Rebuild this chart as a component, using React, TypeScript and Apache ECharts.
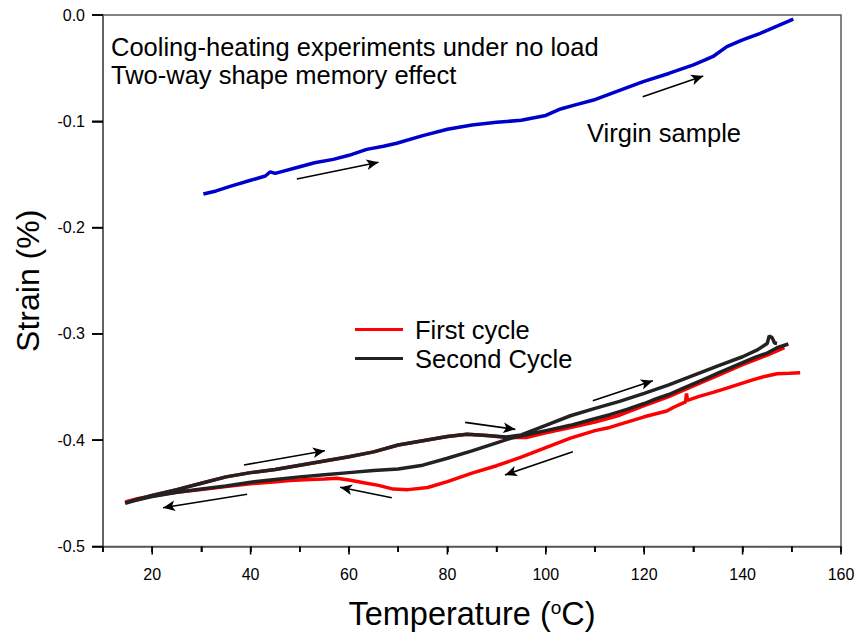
import React, { useEffect, useRef } from 'react';
import * as echarts from 'echarts';

// Temperature (°C), Strain (%)
const virginSample: [number, number][] = [
  [30.4, -0.1684], [33, -0.1655], [36, -0.161], [40, -0.1555], [43, -0.1515], [44, -0.1475],
  [45, -0.149], [50, -0.1427], [53, -0.139], [56.8, -0.1358], [60, -0.132], [63.6, -0.1264],
  [67, -0.1235], [69.7, -0.1207], [75, -0.1135], [80, -0.1075], [85, -0.1035], [90, -0.101],
  [95, -0.099], [100, -0.0945], [103, -0.0884], [106, -0.0845], [109.7, -0.08], [115, -0.071],
  [119.8, -0.0627], [125, -0.055], [130, -0.047], [132.4, -0.0423], [134, -0.039], [136.8, -0.0298],
  [140, -0.0235], [143.6, -0.0172], [147, -0.0105], [150.3, -0.0038],
];

const firstCycle: [number, number][] = [
  // cooling
  [151.7, -0.3365], [149.5, -0.337], [147, -0.3375], [144.5, -0.34], [142.2, -0.343], [139.5, -0.347],
  [136.8, -0.351], [134, -0.355], [131, -0.359], [128.8, -0.3625], [128.6, -0.356], [128.4, -0.364],
  [126, -0.369], [124.6, -0.3725], [120, -0.378], [116.5, -0.383], [113, -0.388], [110, -0.391],
  [105, -0.398], [100, -0.407], [95, -0.416], [90, -0.424], [85, -0.431], [80, -0.439], [76, -0.4445],
  [72, -0.4465], [69, -0.446], [66, -0.4425], [63, -0.44], [60, -0.4375], [57.5, -0.4358], [55, -0.4365],
  [52, -0.437], [48, -0.438], [44, -0.4395], [40, -0.441], [35, -0.4435], [30, -0.4465], [25, -0.449],
  [20, -0.4525], [17, -0.455], [14.5, -0.458],
  // heating
  [17, -0.456], [20, -0.452], [25, -0.4465], [30, -0.4405], [35, -0.4345], [40, -0.4305], [45, -0.4275],
  [50, -0.4235], [55, -0.4195], [60, -0.4155], [65, -0.411], [70, -0.4045], [75, -0.4005], [80, -0.3965],
  [84, -0.3945], [88, -0.3955], [92, -0.3975], [96, -0.3975], [100, -0.393], [105, -0.388], [110, -0.383],
  [115, -0.3765], [120, -0.3675], [125, -0.359], [130, -0.349], [135, -0.339], [140, -0.329],
  [145, -0.32], [148.5, -0.313],
];

const secondCycle: [number, number][] = [
  // cooling
  [149.3, -0.3095], [147, -0.313], [145, -0.318], [142.5, -0.322], [140, -0.327], [137.5, -0.332],
  [135, -0.337], [132.5, -0.342], [130, -0.347], [127.5, -0.352], [125, -0.357], [122.5, -0.361],
  [120, -0.3655], [116.5, -0.371], [113, -0.376], [109, -0.381], [105, -0.386], [100, -0.391],
  [96, -0.395], [93, -0.398], [90, -0.4025], [85, -0.41], [80, -0.417], [75, -0.4235], [70, -0.427],
  [65, -0.4285], [60, -0.4305], [55, -0.4325], [50, -0.4345], [45, -0.437], [40, -0.4395], [35, -0.443],
  [30, -0.446], [25, -0.449], [20, -0.453], [17, -0.456], [14.5, -0.4595],
  // heating
  [15, -0.4585], [17, -0.4555], [20, -0.452], [25, -0.4465], [30, -0.4405], [35, -0.4345], [40, -0.4305],
  [45, -0.4275], [50, -0.4235], [55, -0.4195], [60, -0.4155], [65, -0.411], [70, -0.4045], [75, -0.4005],
  [80, -0.3965], [84, -0.3945], [88, -0.3955], [92, -0.397], [95, -0.395], [100, -0.386], [105, -0.377],
  [110, -0.37], [115, -0.3635], [120, -0.356], [125, -0.348], [130, -0.339], [135, -0.33], [140, -0.3215],
  [143, -0.315], [145, -0.309], [145.4, -0.302], [146, -0.3035], [146.5, -0.3085], [147, -0.309],
];

// Arrows: [fromT, fromStrain, toT, toStrain]
const arrows: [number, number, number, number][] = [
  [49.4, -0.1543, 66.0, -0.1386],
  [119.7, -0.0769, 132.0, -0.0574],
  [38.65, -0.4233, 55.1, -0.4099],
  [39.3, -0.4509, 22.2, -0.4635],
  [68.7, -0.4541, 58.2, -0.4443],
  [83.6, -0.3832, 93.8, -0.3898],
  [109.55, -0.3628, 121.75, -0.344],
  [105.5, -0.4108, 91.7, -0.4327],
];

// Axis ticks
const xTickValues = [10, 20, 30, 40, 50, 60, 70, 80, 90, 100, 110, 120, 130, 140, 150, 160];
const yTickValues = [-0.5, -0.4, -0.3, -0.2, -0.1, 0];
const X_MIN = 10;
const X_MAX = 160;
const Y_MIN = -0.5;
const Y_MAX = 0;

const seriesNames = ['First cycle', 'Second Cycle'];
const annotationText = 'Cooling-heating experiments under no load\nTwo-way shape memory effect';
const virginLabel = 'Virgin sample';

const FONT = '"Liberation Sans", Arial, Helvetica, sans-serif';

export default function App() {
  const ref = useRef<HTMLDivElement>(null);
  useEffect(() => {
    if (!ref.current) return;
    const chart = echarts.init(ref.current, null, { renderer: 'svg' });
    const axisLineStyle = { color: '#5a5a5a', width: 1.5 };
    const textGraphics: any[] = [
      {
        type: 'text', left: 111, top: 32.6,
        style: { text: annotationText, fontSize: 25.5, lineHeight: 28, fill: '#000', fontFamily: FONT },
      },
      {
        type: 'text', left: 587, top: 119.5,
        style: { text: virginLabel, fontSize: 25.5, fill: '#000', fontFamily: FONT },
      },
    ];
    chart.setOption({
      animation: false,
      textStyle: { fontFamily: FONT },
      grid: {
        left: 103, right: 20, top: 15, bottom: 89.5,
        show: true, borderColor: '#5a5a5a', borderWidth: 1.5, backgroundColor: 'transparent',
      },
      legend: {
        data: seriesNames,
        orient: 'vertical',
        left: 355,
        top: 316.5,
        padding: 0,
        itemWidth: 48,
        itemHeight: 3,
        itemGap: 3,
        icon: 'rect',
        selectedMode: false,
        textStyle: { fontSize: 25.5, color: '#000', lineHeight: 25, fontFamily: FONT, padding: [0, 0, 0, 7] },
      },
      xAxis: {
        type: 'value',
        min: X_MIN,
        max: X_MAX,
        interval: 10,
        name: 'Temperature ({s|o}C)',
        nameLocation: 'middle',
        nameGap: 51,
        nameTextStyle: {
          fontSize: 32.5, color: '#000', fontFamily: FONT,
          rich: { s: { fontSize: 19, verticalAlign: 'top', color: '#000', fontFamily: FONT } },
        },
        axisLine: { show: true, onZero: false, lineStyle: axisLineStyle },
        axisTick: { show: true, length: 5.5, lineStyle: { color: '#000', width: 1.5 } },
        axisLabel: {
          margin: 20, fontSize: 16, color: '#000', fontFamily: FONT,
          formatter: (v: number) => (Math.round(v) % 20 === 0 ? String(Math.round(v)) : ''),
        },
        splitLine: { show: false },
      },
      yAxis: {
        type: 'value',
        min: Y_MIN,
        max: Y_MAX,
        interval: 0.1,
        name: 'Strain (%)',
        nameLocation: 'middle',
        nameGap: 59,
        nameTextStyle: { fontSize: 32, color: '#000', fontFamily: FONT },
        axisLine: { show: true, onZero: false, lineStyle: axisLineStyle },
        axisTick: { show: true, length: 11, lineStyle: { color: '#000', width: 1.5 } },
        axisLabel: {
          margin: 18, fontSize: 16, color: '#000', fontFamily: FONT,
          formatter: (v: number) => (Math.abs(v) < 1e-9 ? '0.0' : v.toFixed(1)),
        },
        splitLine: { show: false },
      },
      graphic: textGraphics,
      series: [
        {
          name: 'Virgin sample',
          type: 'line',
          data: virginSample,
          showSymbol: false,
          lineStyle: { color: '#0000cc', width: 3.5 },
          itemStyle: { color: '#0000cc' },
          silent: true,
          z: 2,
          markLine: {
            silent: true,
            animation: false,
            symbol: ['none', 'arrow'],
            symbolSize: [8, 12],
            label: { show: false },
            lineStyle: { color: '#000', width: 1.6, type: 'solid' },
            itemStyle: { color: '#000' },
            emphasis: { disabled: true },
            data: arrows.map((a) => [
              { coord: [a[0], a[1]] },
              { coord: [a[2], a[3]] },
            ]),
          },
        },
        {
          name: seriesNames[0],
          type: 'line',
          data: firstCycle,
          showSymbol: false,
          lineStyle: { color: '#ff0000', width: 3.5 },
          itemStyle: { color: '#ff0000' },
          silent: true,
          z: 3,
        },
        {
          name: seriesNames[1],
          type: 'line',
          data: secondCycle,
          showSymbol: false,
          lineStyle: { color: '#222222', width: 3.5 },
          itemStyle: { color: '#222222' },
          silent: true,
          z: 4,
        },
      ],
    });

    // Tick marks placed through the library's own coordinate conversion
    const tickLines: any[] = [];
    xTickValues.forEach((v) => {
      const p = chart.convertToPixel({ gridIndex: 0 }, [v, Y_MIN]) as number[];
      if (!p) return;
      const len = v % 20 === 0 ? 8 : 5.5;
      tickLines.push({
        type: 'line', z: 100,
        shape: { x1: p[0], y1: p[1], x2: p[0], y2: p[1] + len },
        style: { stroke: '#000', lineWidth: 1.6 },
      });
    });
    yTickValues.forEach((v) => {
      const p = chart.convertToPixel({ gridIndex: 0 }, [X_MIN, v]) as number[];
      if (!p) return;
      tickLines.push({
        type: 'line', z: 100,
        shape: { x1: p[0] - 11, y1: p[1], x2: p[0], y2: p[1] },
        style: { stroke: '#000', lineWidth: 1.6 },
      });
    });
    chart.setOption({ graphic: [...textGraphics, ...tickLines] }, { replaceMerge: ['graphic'] });

    return () => chart.dispose();
  }, []);
  return (
    <div
      ref={ref}
      style={{ position: 'fixed', left: 0, top: 0, width: 861, height: 636, background: '#fff' }}
    />
  );
}
